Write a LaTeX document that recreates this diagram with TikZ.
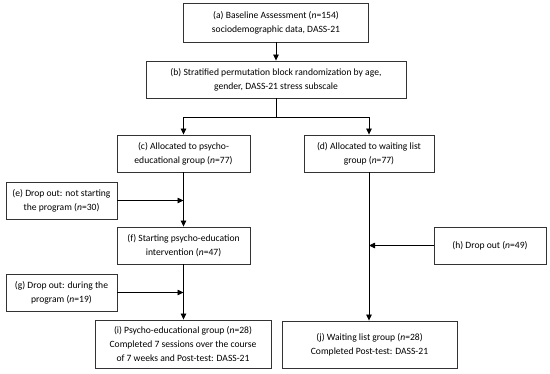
\documentclass[tikz,border=0pt]{standalone}
\usepackage{fontspec}
\setmainfont{Carlito}
\usepackage{tikz}
\usetikzlibrary{positioning, arrows.meta}

\begin{document}
\begin{tikzpicture}[
    x=1pt, y=-1pt,
    box/.style={rectangle, draw=black!80, line width=0.9pt, font=\fontsize{9.6}{14}\selectfont, align=center, inner sep=2pt, minimum height=37pt},
    flow/.style={draw, line width=0.8pt, -{Triangle[length=6pt, width=5.5pt]}},
]
\useasboundingbox (0,0) rectangle (550,373);
% study flow
\node[box, minimum width=185pt, minimum height=39pt] (base) at (276,22.5) {(a) Baseline Assessment (\textit{n}=154)\\sociodemographic data, DASS-21};
\node[box, minimum width=260pt] (rand) at (276,79.5) {(b) Stratified permutation block randomization by age,\\gender, DASS-21 stress subscale};
\node[box, minimum width=133pt] (psy) at (183.5,153.5) {(c) Allocated to psycho-\\educational group (\textit{n}=77)};
\node[box, minimum width=130pt] (wait) at (369,153.5) {(d) Allocated to waiting list\\group (\textit{n}=77)};
\node[box, minimum width=111pt] (drope) at (61.5,200.5) {(e) Drop out: not starting\\the program (\textit{n}=30)};
\node[box, minimum width=133pt] (start) at (183.5,245.5) {(f) Starting psycho-education\\intervention (\textit{n}=47)};
\node[box, minimum width=111pt] (dropg) at (61.5,292.5) {(g) Drop out: during the\\program (\textit{n}=19)};
\node[box, minimum width=112pt] (droph) at (490,245.5) {(h) Drop out (\textit{n}=49)};
\node[box, minimum width=176pt, minimum height=48pt] (psyend) at (183,344) {(i) Psycho-educational group (\textit{n}=28)\\Completed 7 sessions over the course\\of 7 weeks and Post-test: DASS-21};
\node[box, minimum width=175pt, minimum height=47pt] (waitend) at (369.5,344.5) {(j) Waiting list group (\textit{n}=28)\\Completed Post-test: DASS-21};

\coordinate (split) at (276,117);

% connectors
\draw[flow] (base) -- (rand);
\draw[line width=0.8pt] (rand) -- (split);
\draw[flow] (split) -| (psy);
\draw[flow] (split) -| (wait);
\draw[flow] (psy) -- (start);
\draw[flow] (drope.east) -- (drope.east -| psy.south);
\draw[flow] (start.south) -- (start.south |- psyend.north);
\draw[flow] (dropg.east) -- (dropg.east -| start.south);
\draw[flow] (wait.south) -- (wait.south |- waitend.north);
\draw[flow] (droph.west) -- (droph.west -| wait.south);
\end{tikzpicture}
\end{document}
